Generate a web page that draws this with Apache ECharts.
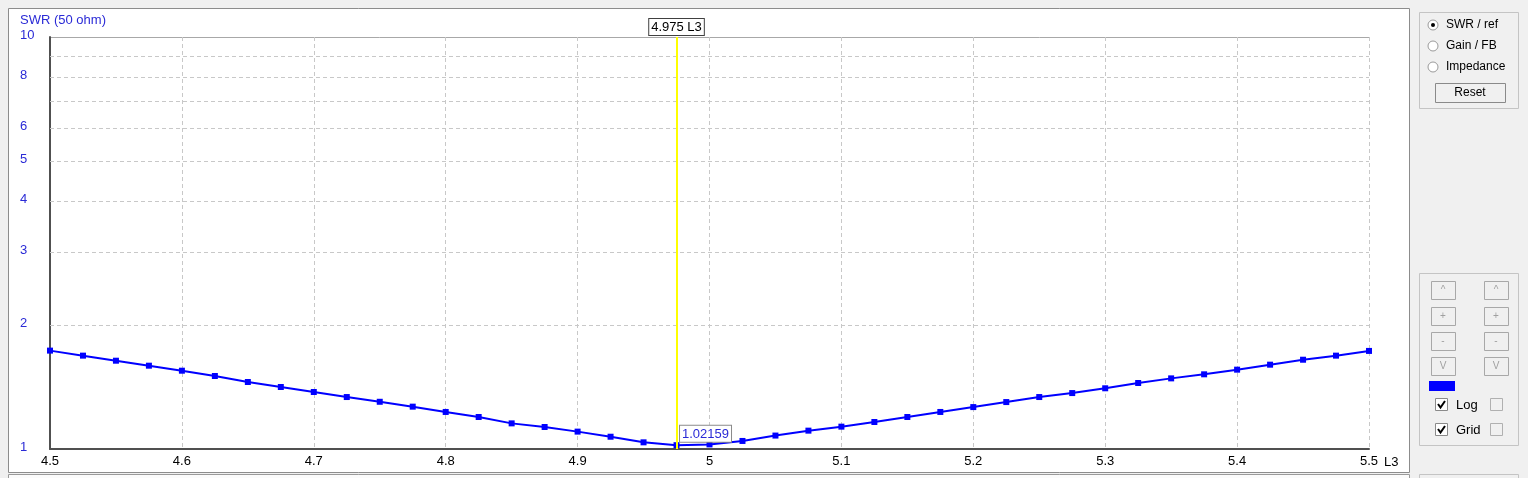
<!DOCTYPE html>
<html>
<head>
<meta charset="utf-8">
<title>SWR (50 ohm)</title>
<script src="https://cdn.jsdelivr.net/npm/echarts@6/dist/echarts.min.js"></script>
<style>
  html, body { margin: 0; padding: 0; background: #f0f0f0; }
  #chart { width: 1528px; height: 478px; }
</style>
</head>
<body>
<div id="chart"></div>
<script>
// sweep of L3 (x) against SWR (y, log scale)
const freqs = [4.5, 4.525, 4.55, 4.575, 4.6, 4.625, 4.65, 4.675, 4.7, 4.725, 4.75, 4.775, 4.8, 4.825, 4.85, 4.875, 4.9, 4.925, 4.95, 4.975,
  5.0, 5.025, 5.05, 5.075, 5.1, 5.125, 5.15, 5.175, 5.2, 5.225, 5.25, 5.275, 5.3, 5.325, 5.35, 5.375, 5.4, 5.425, 5.45, 5.475, 5.5]
const swr = [1.733, 1.685, 1.638, 1.593, 1.549, 1.504, 1.454, 1.414, 1.375, 1.337, 1.302, 1.267, 1.230, 1.196, 1.154, 1.131, 1.102, 1.071, 1.038, 1.02159,
  1.026, 1.046, 1.078, 1.108, 1.133, 1.163, 1.196, 1.230, 1.264, 1.300, 1.337, 1.367, 1.404, 1.446, 1.484, 1.518, 1.558, 1.602, 1.647, 1.685, 1.730]
const yTickLabels = [1, 2, 3, 4, 5, 6, 8, 10]
const yGridValues = [2, 3, 4, 5, 6, 7, 8, 9]
const cursorX = 4.975
const cursorLabel = '4.975 L3'
const minSwr = 1.02159

const FONT = 'Liberation Sans, Arial, sans-serif'
const BLUE_TXT = '#2a2ad6'

const chart = echarts.init(document.getElementById('chart'))

// window chrome (panels, buttons) – fixed layout, not data
function panelGraphics () {
  const g = []
  g.push({ id: 'frame', type: 'rect', z: -10, shape: { x: 8.5, y: 8.5, width: 1401, height: 464 },
    style: { fill: '#fff', stroke: '#8c8c8c', lineWidth: 1 } })
  g.push({ id: 'bottomStrip', type: 'rect', z: -10, shape: { x: 8.5, y: 474.5, width: 1401, height: 10 },
    style: { fill: '#fbfbfb', stroke: '#9a9a9a', lineWidth: 1 } })
  // group box 1
  g.push({ id: 'box1', type: 'rect', shape: { x: 1419.5, y: 12.5, width: 99, height: 96 },
    style: { fill: 'none', stroke: '#c4c4c4', lineWidth: 1 } })
  const radios = ['SWR / ref', 'Gain / FB', 'Impedance']
  radios.forEach((t, i) => {
    const cy = 25 + i * 21
    g.push({ id: 'rad' + i, type: 'circle', shape: { cx: 1433, cy: cy, r: 5 },
      style: { fill: '#fff', stroke: '#9a9a9a', lineWidth: 1 } })
    if (i === 0) {
      g.push({ id: 'radDot', type: 'circle', shape: { cx: 1433, cy: cy, r: 2 }, style: { fill: '#000' } })
    }
    g.push({ id: 'radT' + i, type: 'text', style: { x: 1446, y: cy, text: t, fill: '#000',
      font: '12px ' + FONT, verticalAlign: 'middle' } })
  })
  g.push({ id: 'resetBtn', type: 'rect', shape: { x: 1435.5, y: 83.5, width: 70, height: 19 },
    style: { fill: '#f0f0f0', stroke: '#8a8a8a', lineWidth: 1 } })
  g.push({ id: 'resetT', type: 'text', style: { x: 1470, y: 93, text: 'Reset', fill: '#000',
    font: '12px ' + FONT, align: 'center', verticalAlign: 'middle' } })

  // group box 2
  g.push({ id: 'box2', type: 'rect', shape: { x: 1419.5, y: 273.5, width: 99, height: 172 },
    style: { fill: 'none', stroke: '#c4c4c4', lineWidth: 1 } })
  const btnTxt = ['^', '+', '-', 'V']
  const btnY = [281, 307, 332, 357]
  btnTxt.forEach((t, i) => {
    [1431, 1484].forEach((bx, j) => {
      g.push({ id: 'btn' + i + '_' + j, type: 'rect', shape: { x: bx + 0.5, y: btnY[i] + 0.5, width: 24, height: 18 },
        style: { fill: '#f0f0f0', stroke: '#a8a8a8', lineWidth: 1 } })
      g.push({ id: 'btnT' + i + '_' + j, type: 'text', style: { x: bx + 12, y: btnY[i] + 9, text: t, fill: '#a0a0a0',
        font: '10px ' + FONT, align: 'center', verticalAlign: 'middle' } })
    })
  })
  g.push({ id: 'swatch', type: 'rect', shape: { x: 1429, y: 381, width: 26, height: 10 }, style: { fill: '#0000ff' } })
  const checks = [['Log', 405], ['Grid', 430]]
  checks.forEach((c, i) => {
    const cy = c[1]
    g.push({ id: 'cb' + i, type: 'rect', shape: { x: 1435.5, y: cy - 6.5, width: 12, height: 12 },
      style: { fill: '#fff', stroke: '#8a8a8a', lineWidth: 1 } })
    g.push({ id: 'cbm' + i, type: 'polyline', shape: { points: [[1438, cy - 1], [1440.5, cy + 2.5], [1445, cy - 4]] },
      style: { stroke: '#000', lineWidth: 2, fill: 'none' } })
    g.push({ id: 'cbT' + i, type: 'text', style: { x: 1456, y: cy, text: c[0], fill: '#000',
      font: '13px ' + FONT, verticalAlign: 'middle' } })
    g.push({ id: 'cb2' + i, type: 'rect', shape: { x: 1490.5, y: cy - 6.5, width: 12, height: 12 },
      style: { fill: '#f0f0f0', stroke: '#b0b0b0', lineWidth: 1 } })
  })
  // group box 3 (cut off)
  g.push({ id: 'box3', type: 'rect', shape: { x: 1419.5, y: 474.5, width: 99, height: 20 },
    style: { fill: 'none', stroke: '#c4c4c4', lineWidth: 1 } })
  g.push({ id: 'title', type: 'text', style: { x: 20, y: 20, text: 'SWR (50 ohm)', fill: BLUE_TXT,
    font: '13px ' + FONT, verticalAlign: 'middle' } })
  return g
}

const gridLines = yGridValues.map(v => ({ yAxis: v }))

chart.setOption({
  animation: false,
  backgroundColor: '#f0f0f0',
  graphic: panelGraphics(),
  grid: { left: 50, top: 37, right: 159, bottom: 29, containLabel: false },
  xAxis: {
    type: 'value',
    min: 4.5,
    max: 5.5,
    interval: 0.1,
    name: 'L3',
    nameLocation: 'end',
    nameGap: 12,
    nameTextStyle: { color: '#000', fontSize: 13, fontFamily: FONT, verticalAlign: 'top', padding: [7, 0, 0, 0] },
    axisLine: { lineStyle: { color: '#505050', width: 2 } },
    axisTick: { show: false },
    axisLabel: { color: '#000', fontSize: 13, fontFamily: FONT, margin: 6 },
    splitLine: { show: true, lineStyle: { color: '#c8c8c8', type: [4, 3], width: 1 } }
  },
  yAxis: {
    type: 'log',
    logBase: 10,
    min: 1,
    max: 10,
    axisLine: { show: true, lineStyle: { color: '#505050', width: 2 } },
    axisTick: { show: false },
    axisLabel: { show: false },
    splitLine: { show: true, lineStyle: { color: '#a8a8a8', type: 'solid', width: 1 } }
  },
  series: [{
    type: 'line',
    data: freqs.map((f, i) => [f, swr[i]]),
    symbol: 'rect',
    symbolSize: 6,
    showAllSymbol: true,
    color: '#0000ff',
    itemStyle: { color: '#0000ff' },
    lineStyle: { color: '#0000ff', width: 2 },
    z: 3,
    markLine: {
      silent: true,
      symbol: ['none', 'none'],
      animation: false,
      precision: 5,
      data: gridLines.map(d => ({
        ...d,
        lineStyle: { color: '#c8c8c8', type: [4, 3], width: 1 },
        label: { show: false }
      })).concat([{
        xAxis: cursorX,
        lineStyle: { color: '#ffff00', type: 'solid', width: 2 },
        label: {
          show: true,
          position: 'end',
          formatter: cursorLabel,
          color: '#000',
          fontSize: 13,
          fontFamily: FONT,
          backgroundColor: '#fff',
          borderColor: '#404040',
          borderWidth: 1,
          padding: [2, 2, 1, 2],
          distance: 2
        }
      }])
    },
    markPoint: {
      silent: true,
      symbol: 'rect',
      symbolSize: 1,
      itemStyle: { color: 'rgba(0,0,0,0)' },
      data: [{ coord: [cursorX, minSwr], value: minSwr }],
      label: {
        show: true,
        position: [4, -19],
        formatter: String(minSwr),
        color: BLUE_TXT,
        fontSize: 13,
        fontFamily: FONT,
        backgroundColor: '#fff',
        borderColor: '#8a8a8a',
        borderWidth: 1,
        padding: [2, 2, 1, 2]
      }
    }
  }]
})

// y tick labels placed through the log axis scale
const yLabelGraphics = yTickLabels.map((v, i) => ({
  id: 'ylab' + i,
  type: 'text',
  style: {
    x: 20,
    y: chart.convertToPixel({ yAxisIndex: 0 }, v) - 2,
    text: String(v),
    fill: BLUE_TXT,
    font: '13px ' + FONT,
    verticalAlign: 'middle'
  }
}))
chart.setOption({ graphic: panelGraphics().concat(yLabelGraphics) })
</script>
</body>
</html>
